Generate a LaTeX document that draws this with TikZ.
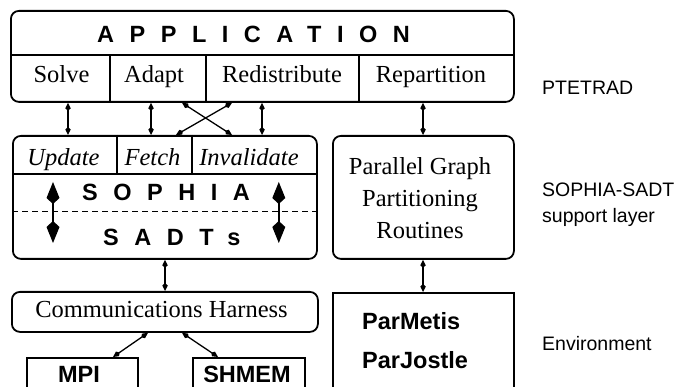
\documentclass[tikz,border=0pt]{standalone}
\usepackage{fontspec}
\setmainfont{Liberation Serif}
\setsansfont{Liberation Sans}
\usetikzlibrary{arrows.meta,calc}
\tikzset{
  sbox/.style={draw, line width=1.8pt, inner sep=0pt, anchor=north west},
  rbox/.style={sbox, rounded corners=8pt},
  divline/.style={line width=1.6pt},
  seriftxt/.style={font=\fontsize{24.5}{28}\selectfont, inner sep=0pt, anchor=base},
  italtxt/.style={font=\fontsize{24.5}{28}\selectfont\itshape, inner sep=0pt, anchor=base},
  boldtxt/.style={font=\fontsize{23.5}{28}\selectfont\sffamily\bfseries, inner sep=0pt, anchor=base},
  boldwest/.style={boldtxt, anchor=base west},
  spacedtxt/.style={font=\fontsize{23.5}{28}\selectfont\sffamily\bfseries\addfontfeature{LetterSpace=66}, inner sep=0pt, anchor=base west},
  sidetxt/.style={font=\fontsize{19.5}{24}\selectfont\sffamily, inner sep=0pt, anchor=base west},
  dlink/.style={line width=1.3pt, {Kite[length=8pt,width=5.5pt,inset=2.5pt]}-{Kite[length=8pt,width=5.5pt,inset=2.5pt]}},
  bigarrow/.style={line width=1.6pt, -{Kite[length=22pt,width=13pt,inset=6pt]}},
  dashline/.style={line width=1pt, dash pattern=on 6pt off 4pt},
}
\begin{document}
\begin{tikzpicture}[x=1pt,y=-1pt]
\useasboundingbox (0,0) rectangle (680,387);
\clip (0,0) rectangle (680,387);
\fill[white] (0,0) rectangle (680,387);

% boxes
\node[rbox, minimum width=503pt, minimum height=91pt] (app) at (10,10) {};
\node[rbox, minimum width=304pt, minimum height=123pt] (sophia) at (12,135) {};
\node[rbox, minimum width=181pt, minimum height=123pt] (graph) at (332,135) {};
\node[rbox, minimum width=306pt, minimum height=40pt] (harness) at (11,291) {};
\node[sbox, minimum width=111pt, minimum height=70pt] (mpi) at (26,357) {};
\node[sbox, minimum width=112pt, minimum height=70pt] (shmem) at (192,357) {};
\node[sbox, minimum width=181pt, minimum height=130pt] (par) at (332,292) {};

% application dividers
\coordinate (aml) at ($(app.north west)+(0,45)$);
\coordinate (amr) at ($(app.north east)+(0,45)$);
\draw[divline] (aml) -- (amr);
\draw[divline] ($(aml)+(100,0)$) -- ($(app.south west)+(100,0)$);
\draw[divline] ($(aml)+(196,0)$) -- ($(app.south west)+(196,0)$);
\draw[divline] ($(aml)+(349,0)$) -- ($(app.south west)+(349,0)$);

% sophia dividers
\coordinate (sml) at ($(sophia.north west)+(0,39)$);
\coordinate (smr) at ($(sophia.north east)+(0,39)$);
\draw[divline] (sml) -- (smr);
\draw[divline] ($(sophia.north west)+(105,0)$) -- ($(sml)+(105,0)$);
\draw[divline] ($(sophia.north west)+(180,0)$) -- ($(sml)+(180,0)$);
\coordinate (dl) at ($(sophia.north west)+(0,77)$);
\coordinate (dr) at ($(sophia.north east)+(0,77)$);
\draw[dashline] (dl) -- (dr);
\draw[bigarrow] ($(dl)+(41,0)$) -- ($(dl)+(41,-30)$);
\draw[bigarrow] ($(dl)+(41,0)$) -- ($(dl)+(41,31)$);
\draw[bigarrow] ($(dr)+(-39,0)$) -- ($(dr)+(-39,-30)$);
\draw[bigarrow] ($(dr)+(-39,0)$) -- ($(dr)+(-39,31)$);

% texts
\node[spacedtxt] (apptxt) at (97,43) {APPLICATION};
\node[seriftxt] (solve) at (61.5,83) {Solve};
\node[seriftxt] (adapt) at (154,83) {Adapt};
\node[seriftxt] (redis) at (282,83) {Redistribute};
\node[seriftxt] (repart) at (431,83) {Repartition};
\node[italtxt] (update) at (63.5,166) {Update};
\node[italtxt] (fetch) at (152.5,166) {Fetch};
\node[italtxt] (inval) at (249,166) {Invalidate};
\node[spacedtxt] (sophiatxt) at (82,201) {SOPHIA};
\node[spacedtxt] (sadts) at (103,246) {SADTs};
\node[seriftxt] (g1) at (420,175) {Parallel Graph};
\node[seriftxt] (g2) at (420,207) {Partitioning};
\node[seriftxt] (g3) at (420,239) {Routines};
\node[seriftxt] (harnesstxt) at (161.5,317) {Communications Harness};
\node[boldtxt] (mpitxt) at (79,382) {MPI};
\node[boldtxt] (shmemtxt) at (247,382) {SHMEM};
\node[boldwest] (parmetis) at (362,330) {ParMetis};
\node[boldwest] (parjostle) at (362,368) {ParJostle};
\node[sidetxt] (l1) at (542,95) {PTETRAD};
\node[sidetxt] (l2) at (542,197) {SOPHIA-SADT};
\node[sidetxt] (l3) at (542,223) {support layer};
\node[sidetxt] (l4) at (542,350) {Environment};

% connectors
\draw[dlink] ($(app.south west)+(58,0)$) -- ($(sophia.north west)+(56,0)$);
\draw[dlink] ($(app.south west)+(141,0)$) -- ($(sophia.north west)+(139,0)$);
\draw[dlink] ($(app.south west)+(252,0)$) -- ($(sophia.north west)+(250,0)$);
\draw[dlink] ($(app.south west)+(413,0)$) -- ($(graph.north west)+(91,0)$);
\draw[dlink] ($(app.south west)+(172,0)$) -- ($(sophia.north west)+(220,0)$);
\draw[dlink] ($(app.south west)+(222,0)$) -- ($(sophia.north west)+(164,0)$);
\draw[dlink] ($(sophia.south west)+(153,0)$) -- ($(harness.north west)+(154,0)$);
\draw[dlink] ($(graph.south west)+(91,0)$) -- ($(par.north west)+(91,0)$);
\draw[dlink] ($(harness.south west)+(137,0)$) -- ($(mpi.north west)+(87,0)$);
\draw[dlink] ($(harness.south west)+(171,0)$) -- ($(shmem.north west)+(26,0)$);
\end{tikzpicture}
\end{document}
